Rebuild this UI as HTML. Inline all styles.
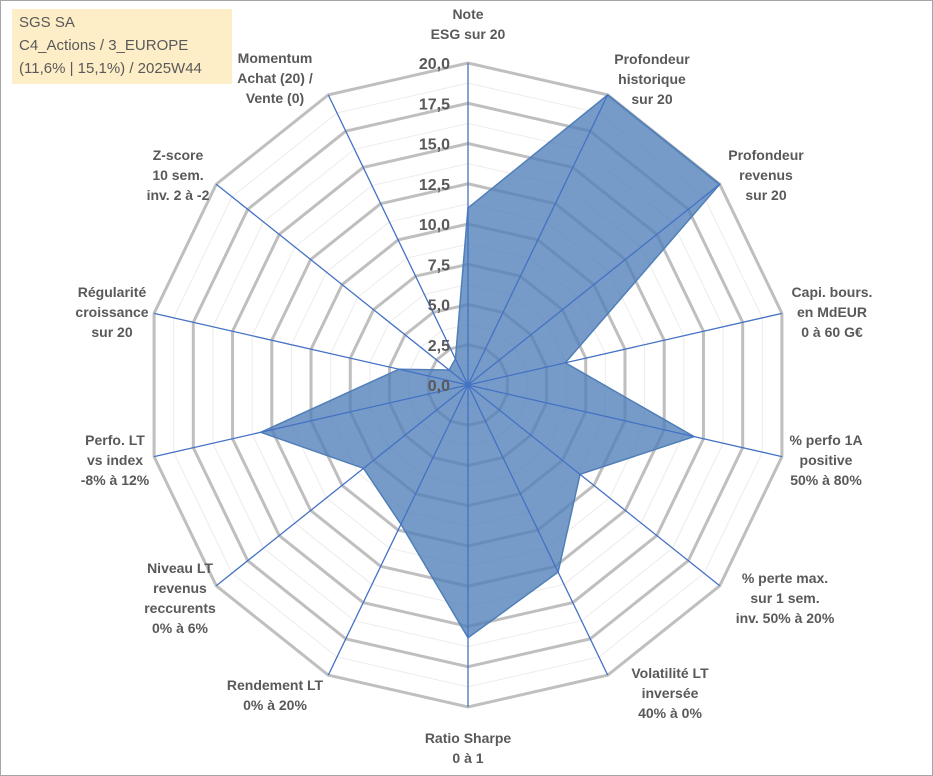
<!DOCTYPE html>
<html><head><meta charset="utf-8">
<style>
body{margin:0;background:#fff;}
#wrap{position:relative;width:933px;height:776px;overflow:hidden;font-family:"Liberation Sans",Arial,sans-serif;}
#frame{position:absolute;left:0;top:0;width:931px;height:774px;border:1px solid #a6a6a6;}
#title{position:absolute;left:12px;top:9px;width:220px;height:75px;background:#fdeec8;color:#595959;font-size:15px;line-height:23px;padding-left:7px;box-sizing:border-box;padding-top:2px;}
</style></head>
<body>
<div id="wrap">
<div id="frame"></div>
<svg id="svg" width="933" height="776" style="position:absolute;left:0;top:0"></svg>
<div id="title">SGS SA<br>C4_Actions / 3_EUROPE<br>(11,6% | 15,1%) / 2025W44</div>
</div>
<script>
const categories=["Note|ESG sur 20","Profondeur|historique|sur 20","Profondeur|revenus|sur 20","Capi. bours.|en MdEUR|0 à 60 G€","% perfo 1A|positive|50% à 80%","% perte max.|sur 1 sem.|inv. 50% à 20%","Volatilité LT|inversée|40% à 0%","Ratio Sharpe|0 à 1","Rendement LT|0% à 20%","Niveau LT|revenus|reccurents|0% à 6%","Perfo. LT|vs index|-8% à 12%","Régularité|croissance|sur 20","Z-score|10 sem.|inv. 2 à -2","Momentum|Achat (20) /|Vente (0)"];
const values=[11.0,20,20,6.2,14.4,8.9,12.9,15.7,9.6,8.3,13.2,4.4,1.5,1.8];
const tickLabels=["0,0","2,5","5,0","7,5","10,0","12,5","15,0","17,5","20,0"];
const tickValues=[0,2.5,5,7.5,10,12.5,15,17.5,20];
const labelPos=[[468,19],[652,64],[766,160],[832,297],[826,445],[785,583],[670,678],[468,743],[275,690],[180,573],[115,445],[112,297],[178,160],[275,63]];
const NS="http://www.w3.org/2000/svg";
const svg=document.getElementById('svg');
const cx=468,cy=385,R=322,maxV=20,N=categories.length;
function pt(i,v){const a=2*Math.PI*i/N;const r=v/maxV*R;return [cx+r*Math.sin(a),cy-r*Math.cos(a)];}
function mk(t,attrs){const e=document.createElementNS(NS,t);for(const k in attrs)e.setAttribute(k,attrs[k]);svg.appendChild(e);return e;}
for(let v=1.25;v<20;v+=2.5){
 const p=mk('polygon',{points:categories.map((c,i)=>pt(i,v).join(',')).join(' '),fill:'none',stroke:'#ececec','stroke-width':1});
 
 
}
tickValues.forEach(v=>{ if(v===0)return;
 const p=mk('polygon',{points:categories.map((c,i)=>pt(i,v).join(',')).join(' '),fill:'none',stroke:'#bfbfbf','stroke-width':3});
 
 
});
const poly=mk('polygon',{points:values.map((v,i)=>pt(i,v).join(',')).join(' '),fill:'#4f7fb8','fill-opacity':0.78,stroke:'#4f7fb8','stroke-width':1.5});


categories.forEach((c,i)=>{
 const [x,y]=pt(i,maxV);
 const l=mk('line',{x1:cx,y1:cy,x2:x,y2:y,stroke:'#4472c4','stroke-width':1.3});
 
 
 const t=mk('text',{x:labelPos[i][0],y:labelPos[i][1],'text-anchor':'middle','font-size':14,'font-weight':'bold',fill:'#595959'});
 
 
 c.split('|').forEach((s,j)=>{const ts=document.createElementNS(NS,'tspan');ts.setAttribute('x',labelPos[i][0]);ts.setAttribute('dy',j?20:0);ts.textContent=s;t.appendChild(ts);});
});
tickValues.forEach((v,k)=>{
 const y=cy-v/maxV*R;
 const t=mk('text',{x:450,y:y+6,'text-anchor':'end','font-size':16,'font-weight':'bold',fill:'#595959'});
 
 
 t.textContent=tickLabels[k];
});
</script>
</body></html>
